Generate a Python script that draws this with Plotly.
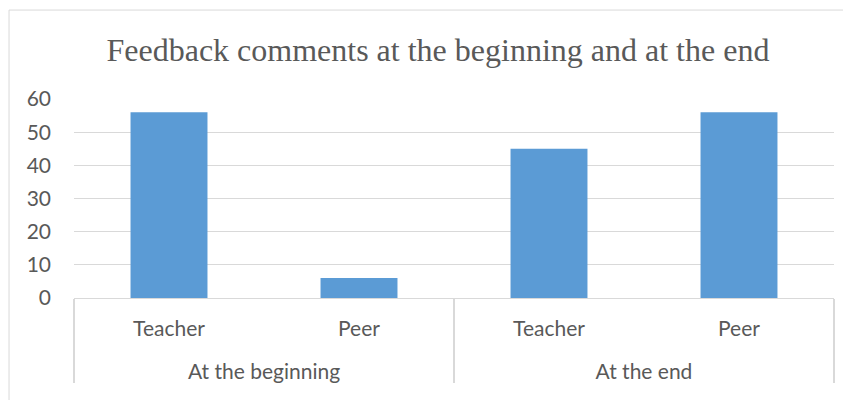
import plotly.graph_objects as go

periods = ["At the beginning", "At the beginning", "At the end", "At the end"]
sources = ["Teacher", "Peer", "Teacher", "Peer"]
counts = [56, 6, 45, 56]
y_ticks = [0, 10, 20, 30, 40, 50, 60]

# second-level labels are pushed one line lower to match the reference spacing
period_labels = ["<br>" + p for p in periods]

fig = go.Figure(go.Bar(
    x=[period_labels, sources],
    y=counts,
    marker=dict(color="#5B9BD5", line=dict(width=0)),
))

# the page body adds an 8px offset, so the figure is sized/margined to compensate
fig.update_layout(
    width=843, height=392,
    margin=dict(l=66, r=17, t=91, b=102),
    paper_bgcolor="white", plot_bgcolor="white",
    bargap=0.595,
    showlegend=False,
    title=dict(text="Feedback comments at the beginning and at the end",
               font=dict(family="Liberation Serif", size=32, color="#595959"),
               x=0.51, xanchor="center", y=0.893, yanchor="middle"),
    font=dict(family="Lato", size=21, color="#595959"),
    xaxis=dict(showline=True, linecolor="#D9D9D9", linewidth=1,
               showgrid=False, ticks="", showdividers=True,
               dividercolor="#D9D9D9", dividerwidth=2,
               ticklabelstandoff=12,
               tickfont=dict(family="Lato", size=21, color="#595959")),
    yaxis=dict(range=[0, 60], tickvals=y_ticks, showgrid=True,
               gridcolor="#D9D9D9", gridwidth=1, zeroline=False,
               showline=False, ticks="", ticklabelstandoff=22,
               tickfont=dict(family="Lato", size=21, color="#595959")),
    shapes=[dict(type="rect", xref="paper", yref="paper",
                 x0=-0.0855, x1=1.05, y0=-0.6, y1=1.447,
                 line=dict(color="#D9D9D9", width=1), fillcolor="rgba(0,0,0,0)",
                 layer="below")],
)

fig.write_html("out.html")
